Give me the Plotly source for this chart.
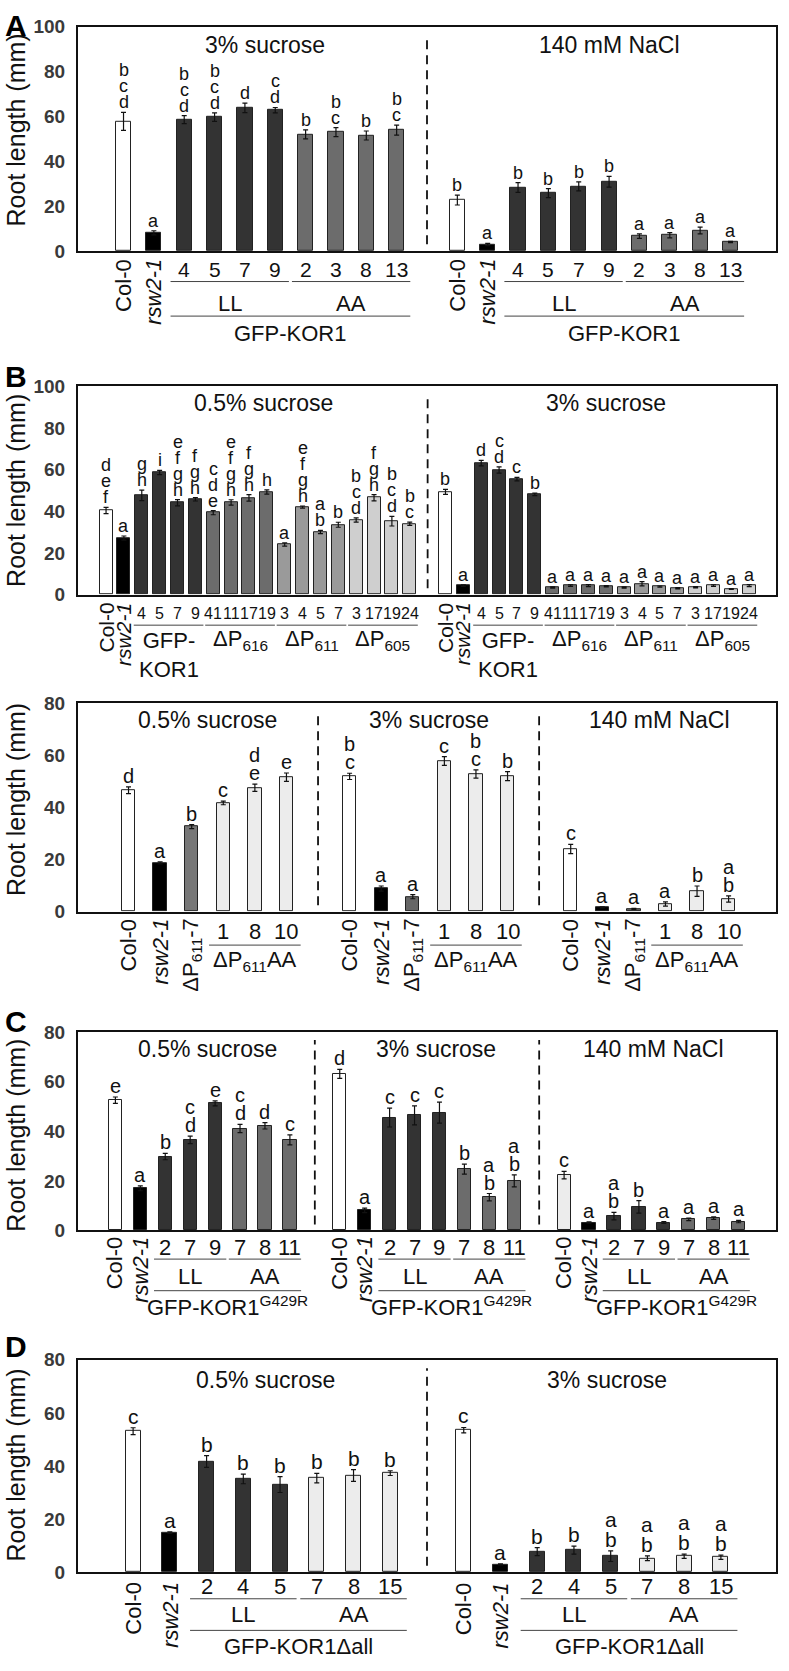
import plotly.graph_objects as go

W, H = 789, 1671
FONT = "Arial, Liberation Sans, sans-serif"

# ---------------- DATA ----------------
# Panel A (GFP-KOR1 LL / AA lines)
A_labels = ["Col-0", "rsw2-1", "4", "5", "7", "9", "2", "3", "8", "13"]
A_suc3 = [57.8, 8.1, 58.6, 59.7, 63.8, 62.8, 52.0, 53.0, 51.5, 53.9]
A_suc3_err = [4.0, 0.9, 1.8, 1.9, 2.1, 1.2, 2.0, 2.0, 2.0, 2.2]
A_suc3_sig = ["bcd", "a", "bcd", "bcd", "d", "cd", "b", "bc", "b", "bc"]
A_nacl = [22.7, 2.9, 28.3, 25.8, 28.8, 30.9, 6.6, 7.0, 9.1, 4.0]
A_nacl_err = [2.2, 0.5, 2.2, 2.0, 2.0, 2.4, 1.0, 1.2, 1.5, 0.3]
A_nacl_sig = ["b", "a", "b", "b", "b", "b", "a", "a", "a", "a"]

# Panel B (top)
B1_labels = ["Col-0", "rsw2-1", "4", "5", "7", "9", "41", "11", "17", "19",
             "3", "4", "5", "7", "3", "17", "19", "24"]
B1_suc05 = [40.3, 27.1, 47.6, 58.6, 44.1, 45.7, 39.3, 44.2, 46.4, 49.2,
            24.0, 42.0, 30.0, 33.5, 35.8, 46.5, 35.2, 34.0]
B1_suc05_err = [1.5, 1.0, 2.5, 1.0, 1.5, 0.8, 1.0, 1.3, 1.6, 1.0,
                0.8, 0.5, 0.8, 1.2, 1.0, 1.5, 2.3, 0.8]
B1_suc05_sig = ["def", "a", "gh", "i", "efgh", "fgh", "cde", "efgh", "fgh", "h",
                "a", "efgh", "ab", "b", "bcd", "fgh", "bcd", "bc"]
B1_suc3 = [49.3, 4.3, 63.1, 59.8, 55.4, 48.1, 3.4, 4.3, 4.3, 4.0,
           3.4, 5.2, 3.8, 3.0, 3.5, 4.3, 2.7, 4.3]
B1_suc3_err = [1.2, 0.4, 1.3, 1.5, 0.8, 0.6, 0.3, 0.4, 0.5, 0.3,
               0.3, 1.0, 0.3, 0.3, 0.3, 0.4, 0.2, 0.5]
B1_suc3_sig = ["b", "a", "d", "cd", "c", "b"] + ["a"] * 12

# Panel B (bottom)
B2_labels = ["Col-0", "rsw2-1", "ΔP<sub>611</sub>-7", "1", "8", "10"]
B2_suc05 = [46.6, 18.7, 32.6, 41.7, 47.5, 51.6]
B2_suc05_err = [1.3, 0.4, 0.8, 0.7, 1.4, 1.6]
B2_suc05_sig = ["d", "a", "b", "c", "de", "e"]
B2_suc3 = [51.9, 8.8, 5.7, 57.8, 52.8, 52.0]
B2_suc3_err = [1.2, 1.0, 0.8, 1.7, 1.6, 1.7]
B2_suc3_sig = ["bc", "a", "a", "c", "bc", "b"]
B2_nacl = [24.0, 1.6, 1.0, 2.9, 7.8, 4.8]
B2_nacl_err = [1.8, 0.2, 0.2, 0.8, 2.0, 1.2]
B2_nacl_sig = ["c", "a", "a", "a", "b", "ab"]

# Panel C (GFP-KOR1 G429R)
C_labels = ["Col-0", "rsw2-1", "2", "7", "9", "7", "8", "11"]
C_suc05 = [52.5, 17.0, 29.8, 36.5, 51.2, 41.1, 42.2, 36.5]
C_suc05_err = [1.3, 1.0, 1.3, 1.5, 1.0, 1.7, 1.3, 2.0]
C_suc05_sig = ["e", "a", "b", "cd", "e", "cd", "d", "c"]
C_suc3 = [63.1, 8.1, 45.5, 46.4, 47.5, 24.7, 13.4, 20.0]
C_suc3_err = [1.8, 0.9, 3.8, 3.8, 4.2, 2.0, 1.5, 2.4]
C_suc3_sig = ["d", "a", "c", "c", "c", "b", "ab", "ab"]
C_nacl = [22.3, 3.2, 5.8, 9.5, 3.2, 4.5, 5.0, 3.6]
C_nacl_err = [1.5, 0.3, 1.5, 2.5, 0.4, 0.5, 0.5, 0.5]
C_nacl_sig = ["c", "a", "ab", "b", "a", "a", "a", "a"]

# Panel D (GFP-KOR1Δall)
D_labels = ["Col-0", "rsw2-1", "2", "4", "5", "7", "8", "15"]
D_suc05 = [53.1, 14.9, 41.7, 35.1, 33.0, 35.4, 36.4, 37.3]
D_suc05_err = [1.3, 0.3, 2.2, 1.8, 3.0, 1.8, 2.2, 0.9]
D_suc05_sig = ["c", "a", "b", "b", "b", "b", "b", "b"]
D_suc3 = [53.5, 2.9, 7.7, 8.3, 6.0, 5.2, 6.0, 5.6]
D_suc3_err = [1.0, 0.2, 1.5, 1.5, 2.0, 0.9, 0.8, 0.8]
D_suc3_sig = ["c", "a", "b", "b", "ab", "ab", "ab", "ab"]

# ---------------- STYLES ----------------
WH, BK, DK, MD, M2, LT, VL = "#ffffff", "#000000", "#333333", "#6c6c6c", "#9a9a9a", "#cfcfcf", "#ececec"
A_col = [WH, BK] + [DK] * 4 + [MD] * 4
B1_col = [WH, BK] + [DK] * 4 + [MD] * 4 + [M2] * 4 + [LT] * 4
B2_col = [WH, BK, "#777777", VL, VL, VL]
B2_col3 = [WH, BK, "#666666", VL, VL, VL]
C_col = [WH, BK] + [DK] * 3 + [MD] * 3
C_coln = [VL, BK] + [DK] * 3 + [MD] * 3
D_col = [WH, BK] + [DK] * 3 + [VL] * 3

X0, X1 = 78, 776


def py(p):
    return 1 - p / H


fig = go.Figure()
ann = []
shp = []


def italic(t):
    return "<i>" + t + "</i>" if t.startswith("rsw") else t


def txt(size):
    return dict(size=size, color="#111", family=FONT)


def add_panel(k, sections, labels, nrot, groups, gene, cfg):
    xs = "x" if k == 1 else "x%d" % k
    ys = "y" if k == 1 else "y%d" % k
    n = len(labels)
    xall, yall, eall, call = [], [], [], []
    for s, sec in enumerate(sections):
        off = s * (n + 1)
        pos = [off + i for i in range(n)]
        xall += pos
        yall += sec["v"]
        eall += sec["e"]
        call += sec["c"]
        # significance letters
        for p, v, e, sig in zip(pos, sec["v"], sec["e"], sec["sig"]):
            for j, ch in enumerate(reversed(sig)):
                ann.append(dict(x=p, y=v + e, xref=xs, yref=ys, text=ch, showarrow=False,
                                xanchor="center", yanchor="bottom",
                                yshift=cfg["l0"] + j * cfg["lgap"], font=txt(cfg["lsize"])))
        # condition title
        ann.append(dict(x=off + sec["tx"], y=py(cfg["title"]), xref=xs, yref="paper",
                        text=sec["title"], showarrow=False, xanchor="center", yanchor="middle",
                        font=txt(23)))
        # dashed separator
        if s > 0:
            shp.append(dict(type="line", xref=xs, yref=ys + " domain", x0=off - 1, x1=off - 1,
                            y0=0.03, y1=0.96, line=dict(color="#111", width=1.8, dash="9px,6px")))
        # rotated labels
        for i in range(nrot):
            ann.append(dict(x=pos[i], y=py(cfg["rot"]), xref=xs, yref="paper", text=italic(labels[i]),
                            textangle=-90, showarrow=False, xanchor="center", yanchor="top",
                            font=txt(cfg["rsize"])))
        # numbers
        for i in range(nrot, n):
            ann.append(dict(x=pos[i], y=py(cfg["num"]), xref=xs, yref="paper", text=labels[i],
                            showarrow=False, xanchor="center", yanchor="middle",
                            font=txt(cfg["nsize"])))
        for (gl, i0, i1) in groups:
            shp.append(dict(type="line", xref=xs, yref="paper", x0=pos[i0] - 0.45, x1=pos[i1] + 0.45,
                            y0=py(cfg["l1"]), y1=py(cfg["l1"]), line=dict(color="#444", width=1)))
            two = "<br>" in gl
            ann.append(dict(x=(pos[i0] + pos[i1]) / 2, y=py(cfg["grp2"] if two else cfg["grp"]),
                            xref=xs, yref="paper", text=gl, showarrow=False, xanchor="center",
                            yanchor="top" if two else "middle", font=txt(cfg["gsize"])))
        if gene:
            gl, i0, i1 = gene
            shp.append(dict(type="line", xref=xs, yref="paper", x0=pos[i0] - 0.45, x1=pos[i1] + 0.45,
                            y0=py(cfg["l2"]), y1=py(cfg["l2"]), line=dict(color="#444", width=1)))
            ann.append(dict(x=(pos[i0] + pos[i1]) / 2, y=py(cfg["gene"]), xref=xs, yref="paper", text=gl,
                            showarrow=False, xanchor="center", yanchor="middle", font=txt(cfg["gsize"])))

    fig.add_trace(go.Bar(x=xall, y=yall, xaxis=xs, yaxis=ys, width=cfg["bw"],
                         marker=dict(color=call, line=dict(color="#222", width=1)),
                         error_y=dict(type="data", array=eall, color="#111", thickness=1.2, width=2.5),
                         showlegend=False, hoverinfo="y"))
    ax = dict(domain=[X0 / W, X1 / W], range=cfg["xr"], showticklabels=False, showgrid=False,
              zeroline=False, showline=True, mirror=True, linecolor="#111", linewidth=2, ticks="",
              anchor=ys)
    ay = dict(domain=[py(cfg["bot"]), py(cfg["top"])], range=[0, cfg["ymax"]], dtick=20,
              showgrid=False, zeroline=False, showline=True, mirror=True, linecolor="#111",
              linewidth=2, ticks="", anchor=xs, ticklabelstandoff=7,
              tickfont=dict(size=19, color="#3a3a3a", family=FONT, weight="bold"))
    fig.update_layout({("xaxis" if k == 1 else "xaxis%d" % k): ax,
                       ("yaxis" if k == 1 else "yaxis%d" % k): ay})
    ann.append(dict(x=16 / W, y=py(cfg["ytc"]), xref="paper", yref="paper",
                    text="Root length (mm)", textangle=-90, showarrow=False,
                    xanchor="center", yanchor="middle", font=txt(25)))
    if cfg.get("letter"):
        ann.append(dict(x=16 / W, y=py(cfg["lety"]), xref="paper", yref="paper",
                        text="<b>%s</b>" % cfg["letter"], showarrow=False,
                        xanchor="center", yanchor="middle", font=dict(size=30, color="#000", family=FONT)))


add_panel(1,
          [dict(v=A_suc3, e=A_suc3_err, sig=A_suc3_sig, c=A_col, title="3% sucrose", tx=4.65),
           dict(v=A_nacl, e=A_nacl_err, sig=A_nacl_sig, c=A_col, title="140 mM NaCl", tx=5.0)],
          A_labels, 2, [("LL", 2, 5), ("AA", 6, 9)], ("GFP-KOR1", 2, 9),
          dict(top=17, bot=244, ymax=100, xr=[-1.5, 21.5], bw=0.5, lsize=18, lgap=16, l0=-2,
               title=35, rot=250, num=263, l1=275, grp=297, l2=310, gene=328, ytc=122,
               nsize=21, rsize=22, gsize=22, letter="A", lety=16))

add_panel(2,
          [dict(v=B1_suc05, e=B1_suc05_err, sig=B1_suc05_sig, c=B1_col, title="0.5% sucrose", tx=8.8),
           dict(v=B1_suc3, e=B1_suc3_err, sig=B1_suc3_sig, c=B1_col, title="3% sucrose", tx=9.0)],
          B1_labels, 2,
          [("GFP-<br>KOR1", 2, 5), ("ΔP<sub>616</sub>", 6, 9), ("ΔP<sub>611</sub>", 10, 13),
           ("ΔP<sub>605</sub>", 14, 17)], None,
          dict(top=381, bot=592, ymax=100, xr=[-1.57, 37.5], bw=0.73, lsize=18, lgap=16, l0=-2,
               title=398, rot=598, num=611, l1=623, grp=638, grp2=624, ytc=487,
               nsize=16, rsize=21, gsize=22, letter="B", lety=371))

add_panel(3,
          [dict(v=B2_suc05, e=B2_suc05_err, sig=B2_suc05_sig, c=B2_col, title="0.5% sucrose", tx=2.5),
           dict(v=B2_suc3, e=B2_suc3_err, sig=B2_suc3_sig, c=B2_col3, title="3% sucrose", tx=2.5),
           dict(v=B2_nacl, e=B2_nacl_err, sig=B2_nacl_sig, c=B2_col3, title="140 mM NaCl", tx=2.8)],
          B2_labels, 3, [("ΔP<sub>611</sub>AA", 3, 5)], None,
          dict(top=702, bot=913, ymax=80, xr=[-1.6, 20.5], bw=0.42, lsize=20, lgap=18, l0=-2,
               title=719, rot=918, num=933, l1=947, grp=963, ytc=800,
               nsize=22, rsize=22, gsize=22))

add_panel(4,
          [dict(v=C_suc05, e=C_suc05_err, sig=C_suc05_sig, c=C_col, title="0.5% sucrose", tx=3.7),
           dict(v=C_suc3, e=C_suc3_err, sig=C_suc3_sig, c=C_col, title="3% sucrose", tx=3.85),
           dict(v=C_nacl, e=C_nacl_err, sig=C_nacl_sig, c=C_coln, title="140 mM NaCl", tx=3.6)],
          C_labels, 2, [("LL", 2, 4), ("AA", 5, 7)], ("GFP-KOR1<sup>G429R</sup>", 2, 7),
          dict(top=1035, bot=1236, ymax=80, xr=[-1.5, 26.5], bw=0.53, lsize=20, lgap=18, l0=-2,
               title=1052, rot=1240, num=1253, l1=1265, grp=1283, l2=1297, gene=1313, ytc=1140,
               nsize=22, rsize=22, gsize=22, letter="C", lety=1024))

add_panel(5,
          [dict(v=D_suc05, e=D_suc05_err, sig=D_suc05_sig, c=D_col, title="0.5% sucrose", tx=3.6),
           dict(v=D_suc3, e=D_suc3_err, sig=D_suc3_sig, c=D_col, title="3% sucrose", tx=3.9)],
          D_labels, 2, [("LL", 2, 4), ("AA", 5, 7)], ("GFP-KOR1Δall", 2, 7),
          dict(top=1367, bot=1582, ymax=80, xr=[-1.5, 17.5], bw=0.41, lsize=21, lgap=20, l0=-2,
               title=1387, rot=1590, num=1597, l1=1609, grp=1625, l2=1641, gene=1657, ytc=1474,
               nsize=22, rsize=22, gsize=22, letter="D", lety=1354))

fig.update_layout(width=W, height=H, margin=dict(l=0, r=0, t=0, b=0),
                  paper_bgcolor="white", plot_bgcolor="white", bargap=0,
                  annotations=ann, shapes=shp, font=dict(family=FONT))
fig.write_html("out.html", config={"displayModeBar": False},
               post_script="document.body.style.margin='0px';")
